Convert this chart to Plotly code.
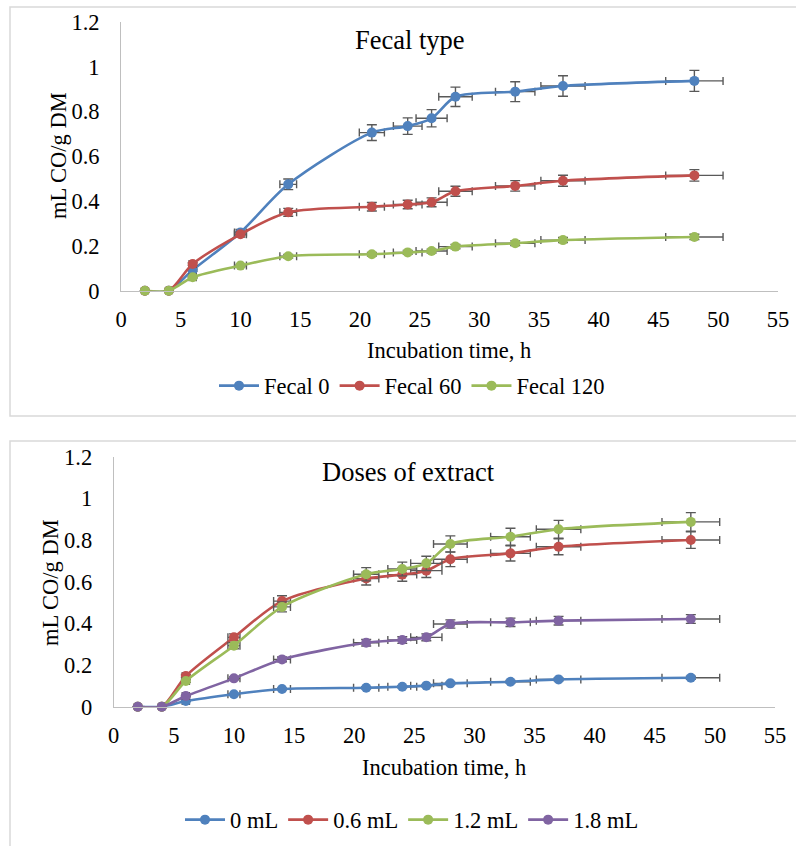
import plotly.graph_objects as go

# ---- data ----
hours = [2, 4, 6, 10, 14, 21, 24, 26, 28, 33, 37, 48]

fecal_names = ["Fecal 0", "Fecal 60", "Fecal 120"]
fecal_0 = [0, 0, 0.092, 0.26, 0.475, 0.706, 0.735, 0.77, 0.866, 0.889, 0.914, 0.937]
fecal_60 = [0, 0, 0.119, 0.252, 0.35, 0.375, 0.385, 0.395, 0.444, 0.468, 0.491, 0.515]
fecal_120 = [0, 0, 0.06, 0.112, 0.154, 0.163, 0.171, 0.177, 0.197, 0.212, 0.226, 0.24]

dose_names = ["0 mL", "0.6 mL", "1.2 mL", "1.8 mL"]
dose_0 = [0, 0, 0.027, 0.06, 0.085, 0.091, 0.096, 0.101, 0.112, 0.12, 0.131, 0.139]
dose_06 = [0, 0, 0.147, 0.333, 0.507, 0.615, 0.634, 0.653, 0.708, 0.736, 0.768, 0.80]
dose_12 = [0, 0, 0.123, 0.293, 0.479, 0.636, 0.661, 0.688, 0.781, 0.816, 0.852, 0.887]
dose_18 = [0, 0, 0.051, 0.136, 0.227, 0.307, 0.32, 0.333, 0.397, 0.405, 0.413, 0.421]

error_pct = 5  # Excel percentage error bars

x_ticks = [0, 5, 10, 15, 20, 25, 30, 35, 40, 45, 50, 55]
y_ticks = [0, 0.2, 0.4, 0.6, 0.8, 1.0, 1.2]

colors4 = ["#4F81BD", "#C0504D", "#9BBB59", "#8064A2"]
FONT = "Liberation Serif"
FS = 22.5
W, H = 796, 846

def px_x(p):
    return p / W

def px_y(p):
    return 1 - p / H

fig = go.Figure()

def add_series(x, y, name, color, xa, ya, legend):
    fig.add_trace(go.Scatter(
        x=x, y=y, name=name, mode="lines+markers",
        line=dict(color=color, width=2.6, shape="spline", smoothing=0.8),
        marker=dict(color=color, size=10),
        error_y=dict(type="percent", value=error_pct, color="#595959", thickness=1.4, width=5),
        error_x=dict(type="percent", value=error_pct, color="#595959", thickness=1.4, width=4),
        xaxis=xa, yaxis=ya, legend=legend, cliponaxis=False,
    ))

for vals, name, c in zip([fecal_0, fecal_60, fecal_120], fecal_names, colors4):
    add_series(hours, vals, name, c, "x", "y", "legend")
for vals, name, c in zip([dose_0, dose_06, dose_12, dose_18], dose_names, colors4):
    add_series(hours, vals, name, c, "x2", "y2", "legend2")

axis_common = dict(
    showgrid=False, zeroline=False, showline=True, linecolor="#BFBFBF", linewidth=1,
    ticks="", automargin=False, ticklabeloverflow="allow",
    tickfont=dict(family=FONT, size=FS, color="#000000"),
)

def ann(text, x, y, size=FS, angle=0):
    return dict(text=text, x=px_x(x), y=px_y(y), xref="paper", yref="paper",
                xanchor="center", yanchor="middle", showarrow=False, textangle=angle,
                font=dict(family=FONT, size=size, color="#000000"))

fig.update_layout(
    width=W, height=H,
    margin=dict(l=0, r=0, t=0, b=0, pad=0, autoexpand=False),
    paper_bgcolor="white", plot_bgcolor="white",
    font=dict(family=FONT, size=FS, color="#000000"),
    xaxis=dict(domain=[px_x(121), px_x(778)], range=[0, 55], tickvals=x_ticks,
               anchor="y", ticklabelstandoff=8, **axis_common),
    yaxis=dict(domain=[px_y(290.7), px_y(22)], range=[0, 1.2], tickvals=y_ticks,
               anchor="x", ticklabelstandoff=16, **axis_common),
    xaxis2=dict(domain=[px_x(113.7), px_x(775)], range=[0, 55], tickvals=x_ticks,
                anchor="y2", ticklabelstandoff=8, **axis_common),
    yaxis2=dict(domain=[px_y(706.7), px_y(456.7)], range=[0, 1.2], tickvals=y_ticks,
                anchor="x2", ticklabelstandoff=16, **axis_common),
    legend=dict(orientation="h", x=px_x(412), y=px_y(386), xanchor="center", yanchor="middle",
                font=dict(family=FONT, size=FS, color="#000000"), bgcolor="rgba(0,0,0,0)", itemwidth=40),
    legend2=dict(orientation="h", x=px_x(412), y=px_y(820), xanchor="center", yanchor="middle",
                 font=dict(family=FONT, size=FS, color="#000000"), bgcolor="rgba(0,0,0,0)", itemwidth=40),
    showlegend=True,
    shapes=[
        dict(type="rect", xref="paper", yref="paper", x0=px_x(10), x1=px_x(810),
             y0=px_y(416), y1=px_y(7), line=dict(color="#D9D9D9", width=1.5)),
        dict(type="rect", xref="paper", yref="paper", x0=px_x(10), x1=px_x(810),
             y0=px_y(870), y1=px_y(441), line=dict(color="#D9D9D9", width=1.5)),
    ],
    annotations=[
        ann("Fecal type", 410, 40, 26.5),
        ann("Doses of extract", 408, 472, 26.5),
        ann("Incubation time, h", 449, 350),
        ann("Incubation time, h", 444, 767),
        ann("mL CO/g DM", 58, 156, angle=-90),
        ann("mL CO/g DM", 50, 582, angle=-90),
    ],
)

fig.write_html("out.html", config={"displayModeBar": False},
               post_script="document.body.style.margin='0';document.body.style.overflow='hidden';")
